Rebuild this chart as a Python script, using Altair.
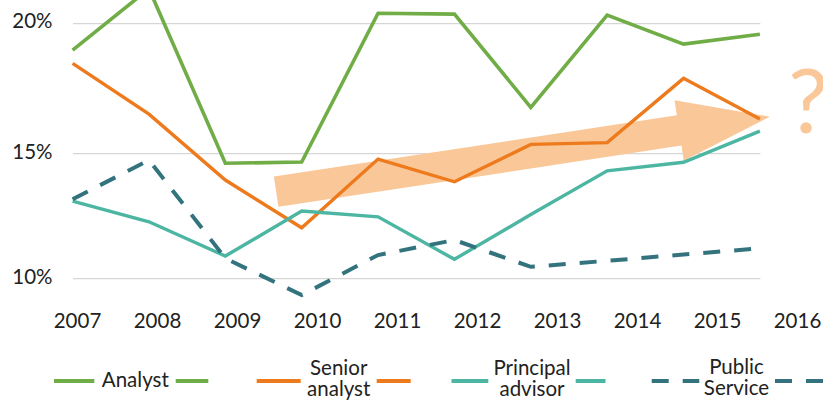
import altair as alt
import pandas as pd

# ---- data -------------------------------------------------------------
years = [2007, 2008, 2009, 2010, 2011, 2012, 2013, 2014, 2015, 2016]
analyst = [18.95, 21.3, 14.6, 14.65, 20.36, 20.33, 16.76, 20.29, 19.18, 19.56]
senior_analyst = [18.44, 16.50, 13.93, 12.02, 14.77, 13.86, 15.34, 15.41, 17.87, 16.31]
principal_advisor = [13.09, 12.26, 10.89, 12.69, 12.46, 10.76, 12.55, 14.30, 14.64, 15.85]
public_service = [13.16, 14.73, 10.80, 9.33, 10.93, 11.53, 10.46, 10.70, 10.95, 11.20]

series_names = ["Analyst", "Senior analyst", "Principal advisor", "Public Service"]
series_values = [analyst, senior_analyst, principal_advisor, public_service]
series_colors = ["#70AD47", "#EE7A1E", "#4DB6A2", "#33737E"]

tick_labels = [str(y) for y in years]
y_ticks = [10, 15, 20]

# ---- layout / style ---------------------------------------------------
PAD_L, PAD_R, PAD_T, PAD_B = 60, 30, 0, 100
W, H = 733, 300
FONT = "Lato"
TEXT = "#222222"
PEACH = "#FAC898"
DASH = [17, 14]

df = pd.DataFrame(
    [
        {"year": y, "series": s, "value": v}
        for s, vals in zip(series_names, series_values)
        for y, v in zip(years, vals)
    ]
)

x_scale = alt.Scale(domain=[2007, 2016], range=[12.6, 699.9], nice=False, zero=False)
y_scale = alt.Scale(domain=[10, 15, 20], range=[278.3, 153.3, 22.7], nice=False, zero=False)
y_axis = alt.Axis(
    values=y_ticks,
    labelExpr="datum.value + '%'",
    grid=True,
    gridColor="#D6D6D6",
    gridWidth=1.25,
    domain=False,
    ticks=False,
    tickSize=0,
    labelPadding=8,
    labelFont=FONT,
    labelFontSize=20.5,
    labelColor=TEXT,
    labelOffset=-1,
    title=None,
)


def xq(field="year"):
    return alt.X(f"{field}:Q", scale=x_scale, axis=None)


def yq(field="value"):
    return alt.Y(f"{field}:Q", scale=y_scale, axis=y_axis)


color_enc = alt.Color(
    "series:N", scale=alt.Scale(domain=series_names, range=series_colors), legend=None
)

# ---- trend arrow and question mark ------------------------------------
ARROW_PATH = (
    "M-1,-0.0613L0.632,-0.0613L0.632,-0.1225L1,0L0.632,0.1225"
    "L0.632,0.0613L-1,0.0613Z"
)
arrow_df = pd.DataFrame({"year": [2012.899], "value": [14.964]})
arrow = alt.Chart(arrow_df).mark_point(
    shape=ARROW_PATH,
    size=249500,
    angle=351.36,
    filled=True,
    color=PEACH,
    opacity=1,
    strokeWidth=0,
).encode(x=xq(), y=yq())

qmark_df = pd.DataFrame({"year": [2016.368], "value": [15.765]})
qmark = alt.Chart(qmark_df).mark_text(
    text="?",
    font=FONT,
    fontSize=90,
    align="left",
    baseline="alphabetic",
    color=PEACH,
).encode(x=xq(), y=yq())

# ---- series lines -----------------------------------------------------
def line_layer(name, width, dash=None):
    kw = dict(strokeWidth=width, strokeJoin="miter", strokeCap="butt")
    if dash:
        kw["strokeDash"] = dash
    return (
        alt.Chart(df)
        .transform_filter(alt.datum.series == name)
        .mark_line(**kw)
        .encode(x=xq(), y=yq(), color=color_enc)
    )


lines = [
    line_layer("Analyst", 3.6),
    line_layer("Senior analyst", 3.4),
    line_layer("Principal advisor", 3.4),
    line_layer("Public Service", 4, DASH),
]

# ---- year labels along the bottom -------------------------------------
xlab_df = pd.DataFrame({"year": years, "label": tick_labels})
xlabels = alt.Chart(xlab_df).mark_text(
    font=FONT, fontSize=20.5, baseline="alphabetic", align="center", color=TEXT
).encode(
    x=alt.X("year:Q", scale=alt.Scale(domain=[2007, 2016], range=[17.5, 737.5]), axis=None),
    y=alt.value(328.3),
    text="label:N",
)

# ---- legend (line, label, line) ---------------------------------------
# page-pixel layout: left segment, label centre, right segment
legend_layout = [
    ("Analyst", (54, 94.3), 135.3, (175.7, 208.3), ["Analyst"], 387.3),
    ("Senior analyst", (256.7, 300.7), 338.7, (376.7, 410.7), ["Senior", "analyst"], 374.6),
    ("Principal advisor", (451.5, 488.3), 532.0, (575.7, 605.5), ["Principal", "advisor"], 374.6),
    ("Public Service", (651.7, 699.3), 736.5, (775.0, 823.0), ["Public", "Service"], 374.1),
]
LEG_Y = 381
legend_layers = []
base_leg = alt.Chart(pd.DataFrame({"k": [0]}))
for name, (la, lb), tx, (ra, rb), label, ty in legend_layout:
    col = series_colors[series_names.index(name)]
    rule_kw = dict(strokeWidth=4, color=col, strokeCap="butt")
    if name == "Public Service":
        rule_kw["strokeDash"] = DASH
    for a, b in ((la, lb), (ra, rb)):
        legend_layers.append(
            base_leg.mark_rule(**rule_kw).encode(
                x=alt.value(a - PAD_L), x2=alt.value(b - PAD_L), y=alt.value(LEG_Y)
            )
        )
    legend_layers.append(
        base_leg.mark_text(
            font=FONT,
            fontSize=20.5,
            align="center",
            baseline="alphabetic",
            lineHeight=21,
            color=TEXT,
        ).encode(
            x=alt.value(tx - PAD_L),
            y=alt.value(ty),
            text=alt.value(label if len(label) > 1 else label[0]),
        )
    )

chart = (
    alt.layer(arrow, *lines, qmark, xlabels, *legend_layers)
    .resolve_scale(x="independent")
    .properties(
        width=W,
        height=H,
        autosize="none",
        padding={"left": PAD_L, "right": PAD_R, "top": PAD_T, "bottom": PAD_B},
        background="white",
    )
    .configure_view(stroke=None)
)

chart.save("out.html", embed_options={"renderer": "svg", "actions": False})
